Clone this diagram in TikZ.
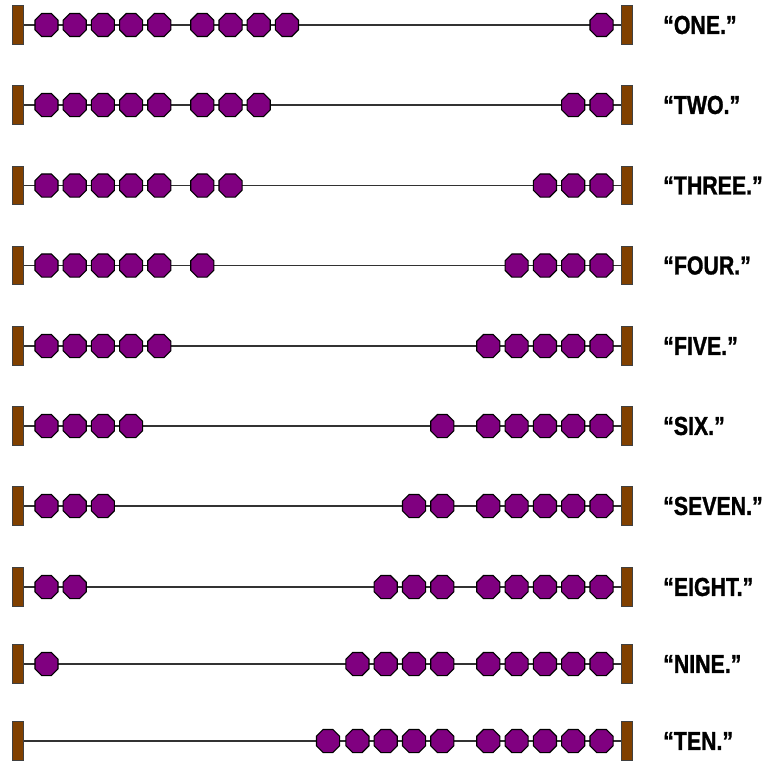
\documentclass[tikz,border=0pt]{standalone}
\usepackage{fontspec}
\newfontfamily\countfont[FakeStretch=0.82,BoldFeatures={FakeBold=1.2}]{Liberation Sans}
\usetikzlibrary{shapes.geometric}

\definecolor{beadpurple}{RGB}{128,0,128}
\definecolor{barbrown}{RGB}{128,64,0}
\definecolor{wiregray}{RGB}{50,50,50}

\begin{document}
\begin{tikzpicture}[
x=1pt,
y=-1pt,
bead/.style={
draw=black,
line width=1.1pt,
fill=beadpurple,
regular polygon,
regular polygon sides=8,
inner sep=0pt,
minimum size=25pt
},
endbar/.style={
draw=black!75,
line width=0.6pt,
fill=barbrown,
inner sep=0pt,
minimum width=11.5pt,
minimum height=38.5pt
},
wire/.style={
draw=wiregray,
line width=1.8pt
},
countlabel/.style={
anchor=west,
inner sep=0pt,
font=\countfont\bfseries\fontsize{26}{26}\selectfont
}
]

\useasboundingbox (0,0) rectangle (776,763);

%%%%%%%%%%%%%%%%%%%%%%%%%%%%%%%%%%%%
% Row 1
%%%%%%%%%%%%%%%%%%%%%%%%%%%%%%%%%%%%

\node[endbar] (left1) at (18,25) {};
\node[endbar] (right1) at (627,25) {};
\draw[wire] (left1)--(right1);
\foreach \x [count=\i] in {46.5,74.7,102.9,131.1,159.3,202.3,230.5,258.7,286.9}
\node[bead] (a1-\i) at (\x,25) {};
\foreach \x [count=\i] in {601.5}
\node[bead] (b1-\i) at (\x,25) {};
\node[countlabel] (one) at (663,25) {“ONE.”};

%%%%%%%%%%%%%%%%%%%%%%%%%%%%%%%%%%%%
% Row 2
%%%%%%%%%%%%%%%%%%%%%%%%%%%%%%%%%%%%

\node[endbar] (left2) at (18,105) {};
\node[endbar] (right2) at (627,105) {};
\draw[wire] (left2)--(right2);
\foreach \x [count=\i] in {46.5,74.7,102.9,131.1,159.3,202.3,230.5,258.7}
\node[bead] (a2-\i) at (\x,105) {};
\foreach \x [count=\i] in {601.5,573.2}
\node[bead] (b2-\i) at (\x,105) {};
\node[countlabel] (two) at (663,105) {“TWO.”};

%%%%%%%%%%%%%%%%%%%%%%%%%%%%%%%%%%%%
% Row 3
%%%%%%%%%%%%%%%%%%%%%%%%%%%%%%%%%%%%

\node[endbar] (left3) at (18,185.5) {};
\node[endbar] (right3) at (627,185.5) {};
\draw[wire] (left3)--(right3);
\foreach \x [count=\i] in {46.5,74.7,102.9,131.1,159.3,202.3,230.5}
\node[bead] (a3-\i) at (\x,185.5) {};
\foreach \x [count=\i] in {601.5,573.2,544.9}
\node[bead] (b3-\i) at (\x,185.5) {};
\node[countlabel] (three) at (663,185.5) {“THREE.”};

%%%%%%%%%%%%%%%%%%%%%%%%%%%%%%%%%%%%
% Row 4
%%%%%%%%%%%%%%%%%%%%%%%%%%%%%%%%%%%%

\node[endbar] (left4) at (18,265.5) {};
\node[endbar] (right4) at (627,265.5) {};
\draw[wire] (left4)--(right4);
\foreach \x [count=\i] in {46.5,74.7,102.9,131.1,159.3,202.3}
\node[bead] (a4-\i) at (\x,265.5) {};
\foreach \x [count=\i] in {601.5,573.2,544.9,516.6}
\node[bead] (b4-\i) at (\x,265.5) {};
\node[countlabel] (four) at (663,265.5) {“FOUR.”};

%%%%%%%%%%%%%%%%%%%%%%%%%%%%%%%%%%%%
% Row 5
%%%%%%%%%%%%%%%%%%%%%%%%%%%%%%%%%%%%

\node[endbar] (left5) at (18,346) {};
\node[endbar] (right5) at (627,346) {};
\draw[wire] (left5)--(right5);
\foreach \x [count=\i] in {46.5,74.7,102.9,131.1,159.3}
\node[bead] (a5-\i) at (\x,346) {};
\foreach \x [count=\i] in {601.5,573.2,544.9,516.6,488.3}
\node[bead] (b5-\i) at (\x,346) {};
\node[countlabel] (five) at (663,346) {“FIVE.”};

%%%%%%%%%%%%%%%%%%%%%%%%%%%%%%%%%%%%
% Row 6
%%%%%%%%%%%%%%%%%%%%%%%%%%%%%%%%%%%%

\node[endbar] (left6) at (18,426) {};
\node[endbar] (right6) at (627,426) {};
\draw[wire] (left6)--(right6);
\foreach \x [count=\i] in {46.5,74.7,102.9,131.1}
\node[bead] (a6-\i) at (\x,426) {};
\foreach \x [count=\i] in {601.5,573.2,544.9,516.6,488.3,442.3}
\node[bead] (b6-\i) at (\x,426) {};
\node[countlabel] (six) at (663,426) {“SIX.”};

%%%%%%%%%%%%%%%%%%%%%%%%%%%%%%%%%%%%
% Row 7
%%%%%%%%%%%%%%%%%%%%%%%%%%%%%%%%%%%%

\node[endbar] (left7) at (18,506) {};
\node[endbar] (right7) at (627,506) {};
\draw[wire] (left7)--(right7);
\foreach \x [count=\i] in {46.5,74.7,102.9}
\node[bead] (a7-\i) at (\x,506) {};
\foreach \x [count=\i] in {601.5,573.2,544.9,516.6,488.3,442.3,414.0}
\node[bead] (b7-\i) at (\x,506) {};
\node[countlabel] (seven) at (663,506) {“SEVEN.”};

%%%%%%%%%%%%%%%%%%%%%%%%%%%%%%%%%%%%
% Row 8
%%%%%%%%%%%%%%%%%%%%%%%%%%%%%%%%%%%%

\node[endbar] (left8) at (18,587) {};
\node[endbar] (right8) at (627,587) {};
\draw[wire] (left8)--(right8);
\foreach \x [count=\i] in {46.5,74.7}
\node[bead] (a8-\i) at (\x,587) {};
\foreach \x [count=\i] in {601.5,573.2,544.9,516.6,488.3,442.3,414.0,385.7}
\node[bead] (b8-\i) at (\x,587) {};
\node[countlabel] (eight) at (663,587) {“EIGHT.”};

%%%%%%%%%%%%%%%%%%%%%%%%%%%%%%%%%%%%
% Row 9
%%%%%%%%%%%%%%%%%%%%%%%%%%%%%%%%%%%%

\node[endbar] (left9) at (18,664) {};
\node[endbar] (right9) at (627,664) {};
\draw[wire] (left9)--(right9);
\foreach \x [count=\i] in {46.5}
\node[bead] (a9-\i) at (\x,664) {};
\foreach \x [count=\i] in {601.5,573.2,544.9,516.6,488.3,442.3,414.0,385.7,357.4}
\node[bead] (b9-\i) at (\x,664) {};
\node[countlabel] (nine) at (663,664) {“NINE.”};

%%%%%%%%%%%%%%%%%%%%%%%%%%%%%%%%%%%%
% Row 10
%%%%%%%%%%%%%%%%%%%%%%%%%%%%%%%%%%%%

\node[endbar] (left10) at (18,741) {};
\node[endbar] (right10) at (627,741) {};
\draw[wire] (left10)--(right10);
\foreach \x [count=\i] in {601.5,573.2,544.9,516.6,488.3,442.3,414.0,385.7,357.4,328.0}
\node[bead] (b10-\i) at (\x,741) {};
\node[countlabel] (ten) at (663,741) {“TEN.”};

\end{tikzpicture}
\end{document}
